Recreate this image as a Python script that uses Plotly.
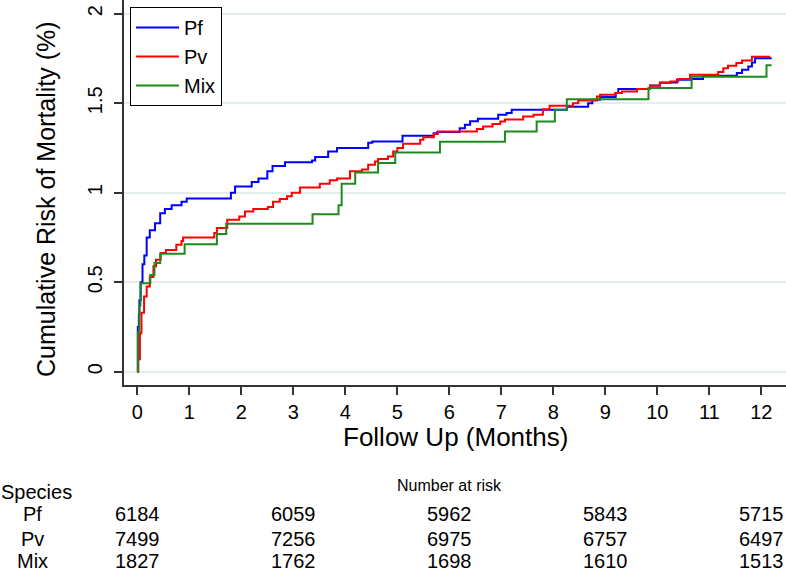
import plotly.graph_objects as go

# ---- data ----
pf_t = [0, 0.01, 0.03, 0.04, 0.065, 0.10, 0.135, 0.18, 0.24, 0.34, 0.44, 0.53, 0.66, 0.85, 0.95,
        1.80, 1.88, 2.20, 2.33, 2.50, 2.60, 2.84, 3.36, 3.42, 3.67, 3.84, 4.44, 4.52, 5.10, 5.70,
        5.77, 6.20, 6.30, 6.40, 6.55, 6.94, 7.10, 7.20, 8.26, 8.67, 8.75, 8.90, 9.20, 9.25, 9.86,
        10.05, 10.38, 10.66, 10.88, 11.53, 11.63, 11.75, 11.82, 11.88, 12.20]
pf_y = [0, 0.25, 0.32, 0.40, 0.50, 0.60, 0.65, 0.75, 0.79, 0.83, 0.885, 0.91, 0.93, 0.95, 0.968,
        1.00, 1.035, 1.06, 1.08, 1.12, 1.15, 1.17, 1.18, 1.20, 1.23, 1.25, 1.28, 1.287, 1.318, 1.333,
        1.34, 1.36, 1.38, 1.40, 1.413, 1.436, 1.445, 1.464, 1.48, 1.50, 1.52, 1.535, 1.557, 1.58, 1.60,
        1.616, 1.631, 1.635, 1.654, 1.669, 1.687, 1.706, 1.728, 1.752, 1.752]

pv_t = [0, 0.02, 0.05, 0.08, 0.13, 0.18, 0.24, 0.31, 0.36, 0.45, 0.55, 0.75, 0.85, 0.88,
        1.48, 1.53, 1.73, 1.96, 2.07, 2.23, 2.51, 2.61, 2.74, 2.88, 2.97, 3.13, 3.51, 3.70,
        3.84, 4.09, 4.32, 4.44, 4.57, 4.63, 4.82, 4.92, 5.00, 5.11, 5.44, 5.50, 5.70, 5.78,
        6.53, 6.65, 6.83, 6.98, 7.07, 7.42, 7.62, 7.80, 7.93, 8.38, 8.48, 8.84, 8.90, 9.19,
        9.32, 9.61, 9.86, 10.05, 10.25, 10.40, 10.63, 11.17, 11.27, 11.36, 11.52, 11.63, 11.82, 12.17]
pv_y = [0, 0.07, 0.215, 0.33, 0.42, 0.476, 0.53, 0.59, 0.626, 0.663, 0.68, 0.71, 0.73, 0.75,
        0.775, 0.803, 0.849, 0.868, 0.895, 0.91, 0.92, 0.95, 0.965, 0.98, 1.00, 1.03, 1.05, 1.07,
        1.08, 1.12, 1.13, 1.156, 1.175, 1.188, 1.203, 1.23, 1.25, 1.274, 1.296, 1.31, 1.328, 1.342,
        1.356, 1.37, 1.384, 1.398, 1.41, 1.426, 1.436, 1.467, 1.486, 1.50, 1.516, 1.538, 1.547, 1.557,
        1.566, 1.58, 1.598, 1.613, 1.622, 1.635, 1.66, 1.675, 1.695, 1.71, 1.725, 1.739, 1.76, 1.76]

mix_t = [0, 0.01, 0.04, 0.06, 0.25, 0.33, 0.44, 0.91, 1.53, 1.71, 3.37, 3.87, 3.93, 4.19,
         4.63, 4.96, 5.82, 7.07, 7.68, 8.03, 8.26, 9.83, 10.66, 12.10, 12.20]
mix_y = [0, 0.22, 0.37, 0.495, 0.54, 0.607, 0.659, 0.713, 0.77, 0.827, 0.88, 0.93, 1.05, 1.113,
         1.166, 1.225, 1.285, 1.342, 1.398, 1.464, 1.523, 1.585, 1.648, 1.712, 1.712]

x_ticks = list(range(0, 13))
y_ticks = [0, 0.5, 1, 1.5, 2]
y_ticktext = ["0", "0.5", "1", "1.5", "2"]

risk_times = [0, 3, 6, 9, 12]
risk_groups = ["Pf", "Pv", "Mix"]
pf_risk = [6184, 6059, 5962, 5843, 5715]
pv_risk = [7499, 7256, 6975, 6757, 6497]
mix_risk = [1827, 1762, 1698, 1610, 1513]

FONT = "Liberation Sans, Arial, sans-serif"

fig = go.Figure()
fig.add_trace(go.Scatter(x=pf_t, y=pf_y, mode="lines", name="Pf",
                         line=dict(color="#0000ff", width=2, shape="hv")))
fig.add_trace(go.Scatter(x=pv_t, y=pv_y, mode="lines", name="Pv",
                         line=dict(color="#ff0000", width=2, shape="hv")))
fig.add_trace(go.Scatter(x=mix_t, y=mix_y, mode="lines", name="Mix",
                         line=dict(color="#1e8a1e", width=2, shape="hv")))

H_PLOT = 385.0
def py(pix):
    return (H_PLOT - pix) / H_PLOT

def px(pix):
    return (pix - 124.0) / 662.0

ann = []
ann.append(dict(text="Follow Up (Months)", x=0.5, y=py(437), xref="paper", yref="paper",
                showarrow=False, font=dict(size=26, family=FONT, color="black"),
                xanchor="center", yanchor="middle"))
ann.append(dict(text="Cumulative Risk of Mortality (%)", x=px(46), y=py(199), xref="paper",
                yref="paper", showarrow=False, textangle=-90,
                font=dict(size=25, family=FONT, color="black"),
                xanchor="center", yanchor="middle"))
ann.append(dict(text="Number at risk", x=6, y=py(485), xref="x", yref="paper",
                showarrow=False, font=dict(size=16, family=FONT, color="black"),
                xanchor="center", yanchor="middle"))
ann.append(dict(text="Species", x=px(0), y=py(492), xref="paper", yref="paper",
                showarrow=False, font=dict(size=20, family=FONT, color="black"),
                xanchor="left", yanchor="middle", borderpad=0))
row_y = [514, 539, 561]
for g, vals, ry in zip(risk_groups, [pf_risk, pv_risk, mix_risk], row_y):
    ann.append(dict(text=g, x=px(32), y=py(ry), xref="paper", yref="paper",
                    showarrow=False, font=dict(size=20, family=FONT, color="black"),
                    xanchor="center", yanchor="middle"))
    for t, v in zip(risk_times, vals):
        ann.append(dict(text=str(v), x=t, y=py(ry), xref="x", yref="paper",
                        showarrow=False, font=dict(size=20, family=FONT, color="black"),
                        xanchor="center", yanchor="middle"))

fig.update_layout(
    width=786, height=571,
    margin=dict(l=124, r=0, t=0, b=186, autoexpand=False),
    plot_bgcolor="white", paper_bgcolor="white",
    font=dict(family=FONT, color="black"),
    showlegend=True,
    legend=dict(x=px(130), y=py(7), xanchor="left", yanchor="top",
                bordercolor="black", borderwidth=1, bgcolor="white",
                font=dict(size=20, family=FONT, color="black"),
                itemwidth=43, tracegroupgap=0),
    annotations=ann,
    xaxis=dict(range=[-0.256, 12.475], tickvals=x_ticks, showgrid=False, zeroline=False,
               automargin=False,
               showline=True, linecolor="#333333", linewidth=1.5,
               ticks="outside", ticklen=8, tickcolor="#333333", tickwidth=1.5,
               tickfont=dict(size=20, family=FONT, color="black")),
    yaxis=dict(range=[-0.074, 2.077], tickvals=y_ticks, ticktext=y_ticktext, tickangle=-90,
               automargin=False, ticklabelstandoff=4,
               showgrid=True, gridcolor="#e4ecf0", gridwidth=1.5, zeroline=False,
               showline=True, linecolor="#333333", linewidth=1.5,
               ticks="outside", ticklen=8, tickcolor="#333333", tickwidth=1.5,
               tickfont=dict(size=20, family=FONT, color="black")),
)

fig.write_html("out.html", config={"displayModeBar": False},
               post_script="document.body.style.margin='0';document.body.style.padding='0';")
